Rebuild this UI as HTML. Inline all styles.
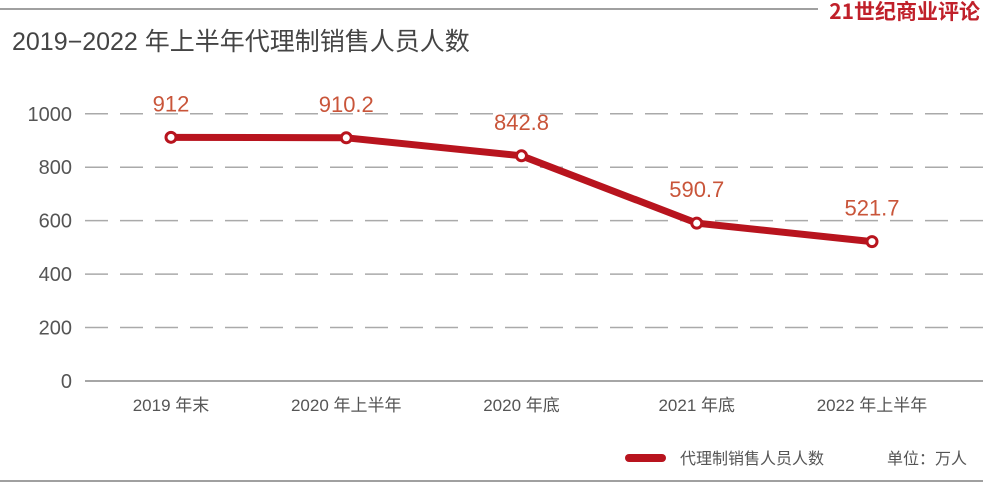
<!DOCTYPE html>
<html><head><meta charset="utf-8">
<style>
html,body{margin:0;padding:0;background:#fff;}
svg{display:block;font-family:"Liberation Sans","Noto Sans CJK SC",sans-serif;}
</style></head>
<body>
<svg id="chart" width="983" height="482" viewBox="0 0 983 482">
  <line x1="0" y1="9" x2="818" y2="9" stroke="#a0a0a0" stroke-width="2"/>
  <text x="980" y="19" text-anchor="end" font-size="21" font-weight="bold" fill="#c0202a" font-family="'Noto Sans CJK SC',sans-serif">21世纪商业评论</text>
  <text x="12" y="50" font-size="25" fill="#444">2019−2022 年上半年代理制销售人员人数</text>
  <g id="grid"></g>
  <g id="yaxis"></g>
  <g id="xaxis"></g>
  <g id="series"></g>
  <g>
    <line x1="629" y1="458" x2="662" y2="458" stroke="#b8141e" stroke-width="8" stroke-linecap="round"/>
    <text x="680" y="464" font-size="16" fill="#555">代理制销售人员人数</text>
    <text x="887" y="464" font-size="16" fill="#555">单位：万人</text>
  </g>
  <line x1="0" y1="481" x2="983" y2="481" stroke="#a0a0a0" stroke-width="2"/>
</svg>
<script>
const categories = ["2019 年末","2020 年上半年","2020 年底","2021 年底","2022 年上半年"];
const values = [912, 910.2, 842.8, 590.7, 521.7];
const valueLabels = ["912","910.2","842.8","590.7","521.7"];
const yTicks = [0,200,400,600,800,1000];

const NS="http://www.w3.org/2000/svg";
const xPos = [171,347,520,693,872];
function x(i){ return xPos[0] + i*(xPos[xPos.length-1]-xPos[0])/(categories.length-1); }
function y(v){ return 381 - v*0.2672; }
function mk(tag, attrs, parent){ const e=document.createElementNS(NS,tag); for(const k in attrs) e.setAttribute(k,attrs[k]); parent.appendChild(e); return e; }

const grid=document.getElementById('grid'), ya=document.getElementById('yaxis'), xa=document.getElementById('xaxis'), s=document.getElementById('series');
yTicks.forEach(t=>{
  const l=mk('line',{x1:85,x2:983,y1:y(t),y2:y(t),stroke:t===0?'#888':'#aaa','stroke-width':1.5,'stroke-dasharray':t===0?'none':'23 12'},grid);
  
  
  const tx=mk('text',{x:72,y:y(t)+7,'text-anchor':'end','font-size':20,fill:'#555'},ya);
  tx.textContent=t;
  
  
});
categories.forEach((c,i)=>{
  const tx=mk('text',{x:x(i),y:411,'text-anchor':'middle','font-size':17,fill:'#555'},xa);
  tx.textContent=c;
  
  
});
const pts=values.map((v,i)=>x(i)+','+y(v)).join(' ');
const pl=mk('polyline',{points:pts,fill:'none',stroke:'#b8141e','stroke-width':7,'stroke-linejoin':'round'},s);


values.forEach((v,i)=>{
  const c=mk('circle',{cx:x(i),cy:y(v),r:5,fill:'#fff',stroke:'#b8141e','stroke-width':3},s);
  
  
  const t=mk('text',{x:x(i),y:y(v)-26,'text-anchor':'middle','font-size':22,fill:'#c9553a'},s);
  t.textContent=valueLabels[i];
  
  
});
</script>
</body></html>
